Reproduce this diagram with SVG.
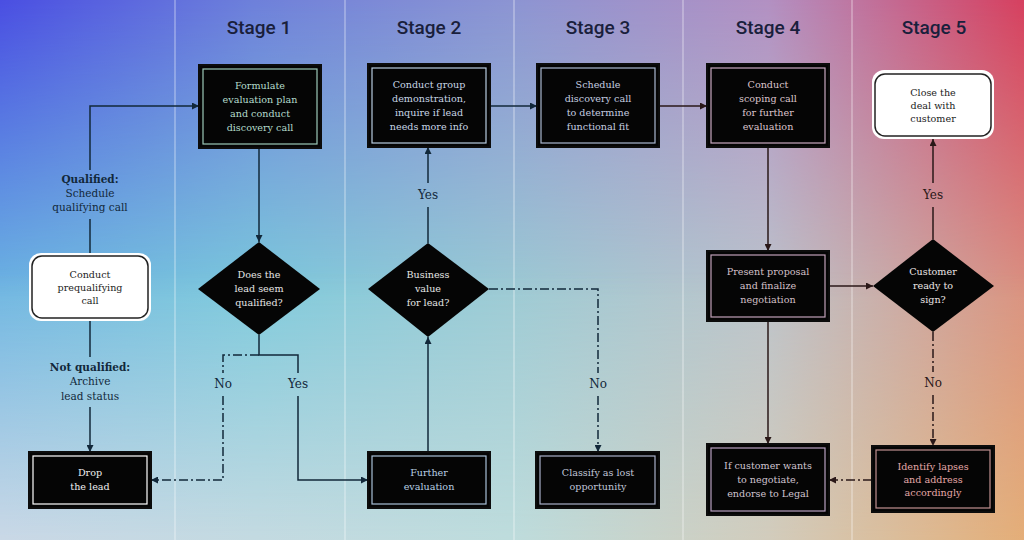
<svg xmlns="http://www.w3.org/2000/svg" width="1024" height="540" viewBox="0 0 1024 540">
<defs>
  <linearGradient id="gMid" x1="0" y1="0" x2="1" y2="0">
    <stop offset="0" stop-color="#6cb6e2"/>
    <stop offset="0.25" stop-color="#7ccadc"/>
    <stop offset="0.5" stop-color="#9ccad4"/>
    <stop offset="0.75" stop-color="#bcc4cc"/>
    <stop offset="1" stop-color="#da9282"/>
  </linearGradient>
  <linearGradient id="gTop" x1="0" y1="0" x2="1" y2="0">
    <stop offset="0" stop-color="#4a4ee2"/>
    <stop offset="0.25" stop-color="#6e80da"/>
    <stop offset="0.5" stop-color="#8c94d2"/>
    <stop offset="0.75" stop-color="#b290c2"/>
    <stop offset="1" stop-color="#d6405f"/>
  </linearGradient>
  <linearGradient id="gBot" x1="0" y1="0" x2="1" y2="0">
    <stop offset="0" stop-color="#cad8e6"/>
    <stop offset="0.5" stop-color="#bedcdc"/>
    <stop offset="0.75" stop-color="#d2ccbc"/>
    <stop offset="1" stop-color="#e4ae78"/>
  </linearGradient>
  <linearGradient id="mTopG" x1="0" y1="0" x2="0" y2="1">
    <stop offset="0" stop-color="#fff"/>
    <stop offset="0.55" stop-color="#000"/>
  </linearGradient>
  <linearGradient id="mBotG" x1="0" y1="0" x2="0" y2="1">
    <stop offset="0.5" stop-color="#000"/>
    <stop offset="1" stop-color="#fff"/>
  </linearGradient>
  <mask id="mTop"><rect width="1024" height="540" fill="url(#mTopG)"/></mask>
  <mask id="mBot"><rect width="1024" height="540" fill="url(#mBotG)"/></mask>
  <marker id="aB" viewBox="0 0 8 8" refX="8" refY="4" markerWidth="7" markerHeight="7" markerUnits="userSpaceOnUse" orient="auto">
    <path d="M0,0 L8,4 L0,8 z" fill="#12283a"/>
  </marker>
  <marker id="aR" viewBox="0 0 8 8" refX="8" refY="4" markerWidth="7" markerHeight="7" markerUnits="userSpaceOnUse" orient="auto">
    <path d="M0,0 L8,4 L0,8 z" fill="#2a1818"/>
  </marker>
  <style>
    .stage{font-family:Roboto,"Noto Sans",sans-serif;font-size:19px;fill:#1a1f3c;text-anchor:middle;font-weight:500}
    .t{font-family:"DejaVu Serif","Liberation Serif",serif;font-size:9.6px;text-anchor:middle}
    .lbl{font-family:"DejaVu Serif","Liberation Serif",serif;font-size:10.5px;text-anchor:middle;fill:#12283a}
    .yn{font-family:"DejaVu Serif","Liberation Serif",serif;font-size:12px;text-anchor:middle}
    .box{fill:#050505;stroke:#0c0c0c;stroke-width:2}
    .inner{fill:none;stroke-width:1.2}
    .dia{fill:#050505}
    .cb{fill:none;stroke:#12283a;stroke-width:1.5}
    .cr{fill:none;stroke:#2a1818;stroke-width:1.5}
    .dd{stroke-dasharray:9 3 2 3}
    .lane{stroke:#ffffff;stroke-opacity:0.55;stroke-width:1}
  </style>
</defs>

<g id="background">
  <rect width="1024" height="540" fill="url(#gMid)"/>
  <rect width="1024" height="540" fill="url(#gTop)" mask="url(#mTop)"/>
  <rect width="1024" height="540" fill="url(#gBot)" mask="url(#mBot)"/>
  <line class="lane" x1="175" y1="0" x2="175" y2="540"/>
  <line class="lane" x1="345" y1="0" x2="345" y2="540"/>
  <line class="lane" x1="514" y1="0" x2="514" y2="540"/>
  <line class="lane" x1="683" y1="0" x2="683" y2="540"/>
  <line class="lane" x1="852" y1="0" x2="852" y2="540"/>
  <text class="stage" x="259" y="34">Stage 1</text>
  <text class="stage" x="429" y="34">Stage 2</text>
  <text class="stage" x="598" y="34">Stage 3</text>
  <text class="stage" x="768" y="34" fill="#2a1a34">Stage 4</text>
  <text class="stage" x="934" y="34" fill="#2e1a2e">Stage 5</text>
</g>

<g id="connectors">
  <path class="cb" d="M90,253 V219"/>
  <path class="cb" d="M90,170 V106 H199" marker-end="url(#aB)"/>
  <text class="lbl" x="90" y="183" font-weight="bold">Qualified:</text>
  <text class="lbl" x="90" y="197">Schedule</text>
  <text class="lbl" x="90" y="211">qualifying call</text>
  <path class="cb" d="M90,321 V357"/>
  <path class="cb" d="M90,407 V452" marker-end="url(#aB)"/>
  <text class="lbl" x="90" y="371" font-weight="bold">Not qualified:</text>
  <text class="lbl" x="90" y="385">Archive</text>
  <text class="lbl" x="90" y="400">lead status</text>
  <path class="cb" d="M259,148 V242" marker-end="url(#aB)"/>
  <path class="cb" d="M259,335 V355 H298 V373"/>
  <path class="cb" d="M298,396 V480 H368" marker-end="url(#aB)"/>
  <text class="yn" x="298" y="388" fill="#12283a">Yes</text>
  <path class="cb dd" d="M259,355 H223 V373"/>
  <path class="cb dd" d="M223,396 V480 H151" marker-end="url(#aB)"/>
  <text class="yn" x="223" y="388" fill="#12283a">No</text>
  <path class="cb" d="M428,452 V337" marker-end="url(#aB)"/>
  <path class="cb" d="M428,243 V207"/>
  <path class="cb" d="M428,183 V147" marker-end="url(#aB)"/>
  <text class="yn" x="428" y="199" fill="#12283a">Yes</text>
  <path class="cb dd" d="M489,289 H598 V373"/>
  <path class="cb dd" d="M598,396 V452" marker-end="url(#aB)"/>
  <text class="yn" x="598" y="388" fill="#12283a">No</text>
  <path class="cb" d="M490,106 H537" marker-end="url(#aB)"/>
  <path class="cr" d="M659,106 H707" marker-end="url(#aR)"/>
  <path class="cr" d="M768,147 V251" marker-end="url(#aR)"/>
  <path class="cr" d="M829,286 H873" marker-end="url(#aR)"/>
  <path class="cr" d="M768,321 V444" marker-end="url(#aR)"/>
  <path class="cr" d="M933,239 V207"/>
  <path class="cr" d="M933,183 V139" marker-end="url(#aR)"/>
  <text class="yn" x="933" y="199" fill="#2a1818">Yes</text>
  <path class="cr dd" d="M933,332 V372"/>
  <path class="cr dd" d="M933,395 V446" marker-end="url(#aR)"/>
  <text class="yn" x="933" y="387" fill="#2a1818">No</text>
  <path class="cr dd" d="M872,480 H829" marker-end="url(#aR)"/>
</g>

<g id="prequalify">
  <rect x="29" y="253" width="122" height="68" rx="12" fill="#ffffff"/>
  <rect x="32" y="256" width="116" height="62" rx="10" fill="#ffffff" stroke="#222222" stroke-width="1.5"/>
  <text class="t" fill="#222222"><tspan x="90" y="278">Conduct</tspan><tspan x="90" y="291">prequalifying</tspan><tspan x="90" y="304">call</tspan></text>
</g>

<g id="formulate">
  <rect class="box" x="199" y="65" width="122" height="83"/>
  <rect class="inner" x="203" y="69" width="114" height="75" stroke="#9cc8b8"/>
  <text class="t" fill="#b4dccc"><tspan x="260" y="89">Formulate</tspan><tspan x="260" y="103">evaluation plan</tspan><tspan x="260" y="117">and conduct</tspan><tspan x="260" y="131">discovery call</tspan></text>
</g>

<g id="diamond1">
  <polygon class="dia" points="259,242 320,289 259,335 198,289"/>
  <text class="t" fill="#e6e6e6"><tspan x="259" y="278">Does the</tspan><tspan x="259" y="292">lead seem</tspan><tspan x="259" y="306">qualified?</tspan></text>
</g>

<g id="drop">
  <rect class="box" x="29" y="452" width="122" height="56"/>
  <rect class="inner" x="33" y="456" width="114" height="48" stroke="#ffffff"/>
  <text class="t" fill="#f0f0f0"><tspan x="90" y="476">Drop</tspan><tspan x="90" y="490">the lead</tspan></text>
</g>

<g id="demonstration">
  <rect class="box" x="368" y="64" width="122" height="83"/>
  <rect class="inner" x="372" y="68" width="114" height="75" stroke="#b8cce0"/>
  <text class="t" fill="#c8d6e6"><tspan x="429" y="88">Conduct group</tspan><tspan x="429" y="102">demonstration,</tspan><tspan x="429" y="116">inquire if lead</tspan><tspan x="429" y="130">needs more info</tspan></text>
</g>

<g id="diamond2">
  <polygon class="dia" points="428,243 489,289 428,337 368,289"/>
  <text class="t" fill="#e6e6e6"><tspan x="428" y="278">Business</tspan><tspan x="428" y="292">value</tspan><tspan x="428" y="306">for lead?</tspan></text>
</g>

<g id="further">
  <rect class="box" x="368" y="452" width="122" height="56"/>
  <rect class="inner" x="372" y="456" width="114" height="48" stroke="#a8c0d8"/>
  <text class="t" fill="#b8d0e4"><tspan x="429" y="476">Further</tspan><tspan x="429" y="490">evaluation</tspan></text>
</g>

<g id="schedule">
  <rect class="box" x="537" y="64" width="122" height="83"/>
  <rect class="inner" x="541" y="68" width="114" height="75" stroke="#aab8d0"/>
  <text class="t" fill="#c6cee0"><tspan x="598" y="88">Schedule</tspan><tspan x="598" y="102">discovery call</tspan><tspan x="598" y="116">to determine</tspan><tspan x="598" y="130">functional fit</tspan></text>
</g>

<g id="classify">
  <rect class="box" x="536" y="452" width="123" height="56"/>
  <rect class="inner" x="540" y="456" width="115" height="48" stroke="#a8b0c8"/>
  <text class="t" fill="#c0c6d8"><tspan x="598" y="476">Classify as lost</tspan><tspan x="598" y="490">opportunity</tspan></text>
</g>

<g id="scoping">
  <rect class="box" x="707" y="64" width="122" height="83"/>
  <rect class="inner" x="711" y="68" width="114" height="75" stroke="#c8a8c0"/>
  <text class="t" fill="#dcc4cc"><tspan x="768" y="88">Conduct</tspan><tspan x="768" y="102">scoping call</tspan><tspan x="768" y="116">for further</tspan><tspan x="768" y="130">evaluation</tspan></text>
</g>

<g id="present">
  <rect class="box" x="707" y="251" width="122" height="70"/>
  <rect class="inner" x="711" y="255" width="114" height="62" stroke="#c0a0b8"/>
  <text class="t" fill="#d4c0c8"><tspan x="768" y="275">Present proposal</tspan><tspan x="768" y="289">and finalize</tspan><tspan x="768" y="303">negotiation</tspan></text>
</g>

<g id="ifcustomer">
  <rect class="box" x="707" y="444" width="122" height="71"/>
  <rect class="inner" x="711" y="448" width="114" height="63" stroke="#b8a0c0"/>
  <text class="t" fill="#d0c4d0"><tspan x="768" y="469">If customer wants</tspan><tspan x="768" y="483">to negotiate,</tspan><tspan x="768" y="497">endorse to Legal</tspan></text>
</g>

<g id="close">
  <rect x="872" y="70" width="122" height="69" rx="12" fill="#ffffff"/>
  <rect x="875" y="74" width="116" height="62" rx="10" fill="#ffffff" stroke="#222222" stroke-width="1.5"/>
  <text class="t" fill="#222222"><tspan x="933" y="96">Close the</tspan><tspan x="933" y="109">deal with</tspan><tspan x="933" y="122">customer</tspan></text>
</g>

<g id="diamond3">
  <polygon class="dia" points="933,239 994,286 933,332 873,286"/>
  <text class="t" fill="#ece6e6"><tspan x="933" y="275">Customer</tspan><tspan x="933" y="289">ready to</tspan><tspan x="933" y="303">sign?</tspan></text>
</g>

<g id="identify">
  <rect class="box" x="872" y="446" width="122" height="66"/>
  <rect class="inner" x="876" y="450" width="114" height="58" stroke="#c09090"/>
  <text class="t" fill="#e4a8a8"><tspan x="933" y="470">Identify lapses</tspan><tspan x="933" y="483">and address</tspan><tspan x="933" y="496">accordingly</tspan></text>
</g>
</svg>
